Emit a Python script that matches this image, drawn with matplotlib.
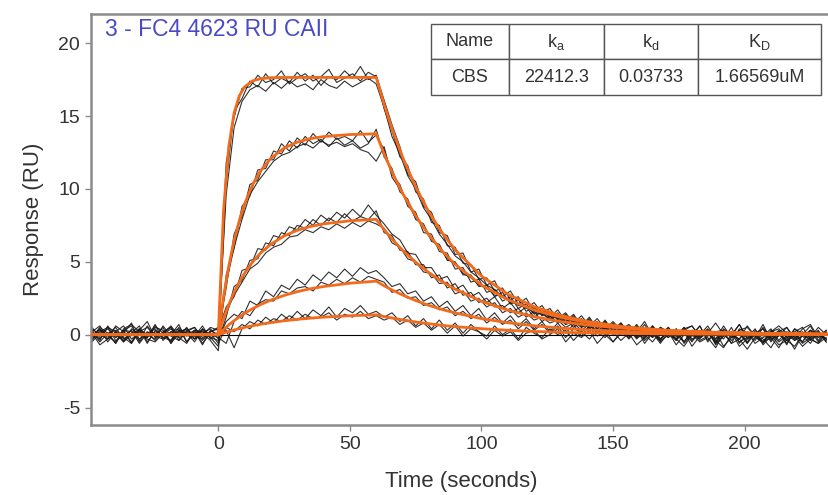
import numpy as np
import matplotlib
matplotlib.use('Agg')
import matplotlib.pyplot as plt

plt.rcParams['font.family'] = ['Liberation Sans', 'DejaVu Sans']
plt.rcParams['axes.unicode_minus'] = False

# ---- data ----
# raw traces are sampled every 3 s from -48 s to 231 s
# (17 points before injection, 20 during association, 57 during dissociation)
t_start, t_step = -48, 3

top_a = [0.3, -0.4, 0.6, -0.2, 0.1, 0.8, -0.5, 0.2, -0.1, 0.5, -0.6, 0.3, 0.0, -0.3, 0.4, -0.2, -0.8,
         10.4, 15.3, 16.2, 17.4, 17.0, 17.9, 17.2, 17.6, 17.3, 18.0, 17.4, 17.8, 17.1, 17.7, 17.5, 18.1, 17.6, 18.4, 17.5, 17.8,
         16.1, 14.4, 12.9, 11.0, 10.5, 8.8, 8.4, 7.0, 6.8, 5.5,
         5.6, 4.3, 4.5, 3.4, 3.7, 2.6, 3.0, 2.1, 2.5, 1.6,
         2.0, 1.2, 1.7, 0.9, 1.4, 0.6, 1.2, 0.4, 1.0, 0.2,
         0.8, 0.1, 0.7, -0.2, 0.6, 0.0, 0.5, -0.4, 0.3, -0.1,
         0.6, -0.5, 0.2, -0.3, 0.5, -0.6, 0.1, -0.2, 0.7, -0.4,
         0.2, -0.7, 0.4, -0.1, 0.3, -0.5, 0.2]
top_b = [-0.2, 0.5, 0.1, -0.6, 0.4, 0.7, 0.2, -0.3, -0.5, 0.1, 0.6, -0.1, 0.3, 0.5, -0.4, 0.2, 0.4,
         11.8, 14.9, 16.9, 17.0, 17.8, 17.3, 17.5, 18.1, 17.2, 17.6, 17.9, 17.4, 17.7, 18.2, 17.3, 17.6, 17.9, 17.4, 18.0, 17.7,
         15.5, 14.0, 12.2, 11.6, 9.8, 9.3, 7.7, 7.5, 6.1, 6.0,
         4.9, 4.8, 3.8, 3.9, 3.0, 3.2, 2.4, 2.6, 1.8, 2.2,
         1.5, 1.8, 1.1, 1.5, 0.8, 1.3, 0.6, 1.1, 0.4, 0.9,
         0.3, 0.7, 0.2, 0.9, -0.1, 0.5, 0.2, -0.3, 0.4, 0.6,
         -0.2, 0.1, 0.8, 0.0, -0.4, 0.3, 0.5, -0.1, -0.5, 0.2,
         0.6, 0.1, -0.3, 0.4, 0.7, -0.2, 0.3]
top_c = [0.1, -0.7, -0.3, 0.2, -0.5, 0.0, 0.4, -0.6, 0.3, -0.2, -0.4, 0.5, -0.1, 0.2, -0.7, 0.3, 0.0,
         9.6, 14.2, 16.0, 16.8, 17.1, 16.7, 17.3, 16.9, 17.4, 17.0, 17.2, 16.8, 17.5, 17.1, 16.9, 17.4, 17.0, 17.3, 17.6, 17.2,
         15.6, 13.6, 12.4, 10.9, 10.0, 8.7, 7.9, 6.9, 6.2, 5.4,
         5.0, 4.3, 3.9, 3.4, 3.1, 2.6, 2.4, 2.0, 1.9, 1.5,
         1.4, 1.1, 1.2, 0.7, 0.9, 0.5, 0.7, 0.3, 0.6, 0.1,
         0.4, -0.2, 0.3, -0.4, 0.1, -0.6, 0.2, -0.3, -0.8, 0.0,
         -0.5, -0.2, -0.9, 0.1, -0.6, -0.3, -1.0, -0.2, -0.5, 0.0,
         -0.7, -0.4, -0.1, -0.8, -0.3, -0.6, -0.2]

mid_a = [0.4, 0.0, -0.3, 0.6, 0.2, -0.5, 0.3, 0.9, -0.2, 0.1, 0.5, -0.4, 0.2, -0.1, 0.6, -0.3, 0.2,
         3.2, 6.9, 8.1, 10.3, 10.6, 12.0, 12.0, 13.1, 12.6, 13.5, 13.0, 13.8, 13.2, 13.9, 13.4, 13.6, 13.3, 14.0, 13.2, 13.7,
         12.7, 11.0, 10.3, 8.8, 8.4, 7.0, 6.9, 5.7, 5.6, 4.5,
         4.6, 3.6, 3.8, 2.9, 3.1, 2.3, 2.6, 1.8, 2.1, 1.4,
         1.8, 1.1, 1.5, 0.8, 1.3, 0.6, 1.1, 0.4, 0.9, 0.3,
         0.8, 0.1, 0.6, -0.3, 0.5, 0.2, -0.2, 0.4, -0.5, 0.3,
         0.0, 0.6, -0.3, 0.2, -0.6, 0.4, 0.1, -0.4, 0.5, -0.2,
         0.3, -0.6, 0.2, 0.5, -0.3, 0.1, -0.4]
mid_b = [-0.3, 0.2, 0.5, -0.4, -0.1, 0.3, -0.6, 0.1, 0.4, -0.2, 0.0, 0.7, -0.5, 0.3, 0.1, -0.4, -1.1,
         4.1, 5.9, 8.8, 9.5, 11.3, 11.4, 12.6, 12.4, 13.3, 12.8, 13.6, 13.1, 13.4, 12.9, 13.5, 13.0, 13.3, 12.8, 13.1, 14.1,
         12.2, 11.4, 9.8, 9.3, 7.9, 7.6, 6.4, 6.2, 5.1, 5.0,
         4.1, 4.1, 3.3, 3.4, 2.6, 2.9, 2.1, 2.4, 1.6, 1.9,
         1.3, 1.6, 1.0, 1.4, 0.7, 1.1, 0.5, 0.9, 0.3, 0.8,
         0.2, 0.6, 0.0, 0.7, -0.2, 0.4, 0.1, -0.4, 0.3, 0.6,
         -0.1, 0.2, -0.5, 0.4, 0.0, -0.3, 0.6, -0.1, -0.6, 0.2,
         0.4, -0.2, 0.1, -0.5, 0.3, 0.0, -0.3]
mid_c = [0.2, -0.5, 0.1, 0.3, -0.2, -0.6, 0.4, 0.0, -0.3, 0.6, -0.1, -0.4, 0.2, 0.5, -0.2, 0.1, 0.0,
         3.5, 6.0, 7.9, 9.6, 10.5, 11.2, 11.9, 12.3, 12.5, 12.9, 13.1, 12.8, 13.3, 13.0, 13.2, 12.9, 13.1, 12.7, 12.5, 11.9,
         12.9, 10.8, 10.0, 9.0, 8.0, 7.4, 6.5, 6.0, 5.2, 4.9,
         4.2, 3.9, 3.4, 3.2, 2.7, 2.7, 2.2, 2.1, 1.8, 1.8,
         1.4, 1.5, 1.1, 1.2, 0.9, 1.0, 0.6, 0.8, 0.4, 0.7,
         0.3, 0.5, -0.1, 0.4, 0.2, -0.3, 0.3, 0.0, -0.5, 0.2,
         -0.2, 0.3, -0.6, -0.1, 0.2, -0.5, -0.2, 0.4, -0.7, -0.1,
         0.1, -0.4, -0.8, 0.0, -0.3, -0.6, 0.1]

low_a = [-0.1, 0.4, -0.5, 0.2, 0.6, -0.3, 0.1, -0.2, 0.5, 0.3, -0.6, 0.1, 0.4, -0.3, 0.0, 0.5, 0.3,
         1.9, 2.6, 4.4, 4.6, 5.9, 5.8, 6.8, 6.6, 7.4, 7.2, 7.9, 7.5, 8.2, 7.8, 8.4, 8.0, 8.6, 8.1, 8.9, 8.2,
         7.6, 6.9, 6.5, 5.6, 5.5, 4.6, 4.6, 3.8, 4.0, 3.1,
         3.4, 2.6, 2.9, 2.2, 2.6, 1.8, 2.2, 1.5, 1.9, 1.2,
         1.6, 1.0, 1.4, 0.7, 1.2, 0.5, 1.0, 0.4, 0.9, 0.2,
         0.7, 0.0, 0.6, 0.3, -0.2, 0.5, 0.1, -0.3, 0.4, 0.0,
         0.6, -0.4, 0.2, 0.3, -0.1, 0.7, -0.3, 0.1, 0.4, -0.5,
         0.2, 0.5, -0.2, 0.0, 0.6, -0.4, 0.3]
low_b = [0.5, -0.2, 0.1, -0.6, 0.3, 0.2, -0.4, 0.6, -0.1, -0.3, 0.2, 0.4, -0.5, 0.1, 0.3, -0.2, -0.4,
         1.2, 3.3, 3.7, 5.1, 5.2, 6.3, 6.1, 7.0, 6.8, 7.5, 7.3, 7.9, 7.5, 8.0, 7.7, 8.3, 7.8, 8.1, 7.9, 8.5,
         7.0, 6.8, 5.8, 5.7, 4.8, 4.8, 3.9, 4.1, 3.2, 3.5,
         2.7, 2.9, 2.2, 2.5, 1.9, 2.0, 1.5, 1.8, 1.2, 1.6,
         0.9, 1.3, 0.8, 1.1, 0.5, 0.9, 0.4, 0.8, 0.2, 0.7,
         0.1, 0.5, -0.2, 0.4, 0.1, -0.4, 0.3, -0.1, 0.5, -0.3,
         0.0, 0.4, -0.5, 0.2, -0.2, 0.3, -0.6, 0.1, 0.4, -0.3,
         -0.1, 0.5, -0.4, 0.2, -0.2, 0.3, -0.5]
low_c = [-0.4, 0.3, 0.0, 0.5, -0.3, 0.1, 0.6, -0.5, 0.2, 0.0, 0.4, -0.2, -0.6, 0.3, 0.2, -0.1, 0.1,
         1.5, 2.7, 3.6, 4.5, 4.9, 5.6, 6.0, 6.2, 6.7, 6.8, 7.2, 7.0, 7.4, 7.2, 7.6, 7.3, 7.7, 7.4, 7.8, 7.6,
         7.3, 6.3, 6.0, 5.2, 5.0, 4.3, 4.2, 3.5, 3.6, 2.8,
         3.0, 2.3, 2.5, 1.9, 2.2, 1.5, 1.8, 1.2, 1.5, 1.0,
         1.2, 0.8, 1.0, 0.5, 0.8, 0.3, 0.7, 0.1, 0.5, 0.0,
         0.4, -0.3, 0.3, 0.0, -0.5, 0.2, -0.2, 0.4, -0.6, 0.0,
         -0.3, 0.3, -0.7, -0.1, 0.2, -0.8, -0.3, 0.1, -0.5, -0.2,
         -0.9, 0.0, -0.4, -0.1, -0.6, 0.2, -0.3]

min_a = [0.2, 0.6, -0.3, 0.1, -0.5, 0.4, 0.0, -0.2, 0.7, -0.4, 0.2, -0.1, 0.5, -0.3, 0.1, 0.4, -0.3,
         0.9, 1.4, 1.1, 2.3, 2.0, 3.0, 2.6, 3.4, 3.1, 3.8, 3.4, 4.1, 3.7, 4.3, 3.9, 4.5, 4.0, 4.6, 4.2, 4.4,
         3.9, 3.3, 3.5, 2.8, 3.0, 2.3, 2.6, 1.9, 2.3, 1.6,
         2.0, 1.3, 1.8, 1.0, 1.5, 0.8, 1.3, 0.6, 1.1, 0.4,
         0.9, 0.2, 0.8, 0.1, 0.7, -0.1, 0.6, 0.2, -0.2, 0.5,
         0.0, 0.4, -0.3, 0.3, 0.1, -0.4, 0.5, -0.1, 0.2, -0.5,
         0.3, 0.0, -0.3, 0.6, -0.2, 0.1, -0.6, 0.3, -0.1, 0.4,
         -0.4, 0.2, 0.0, -0.5, 0.3, -0.2, 0.1]
min_b = [-0.5, 0.1, 0.4, -0.2, 0.3, -0.6, 0.2, 0.5, -0.1, 0.0, -0.4, 0.3, 0.1, -0.5, 0.4, 0.0, -0.2,
         -0.6, 0.9, 1.6, 1.3, 2.1, 2.4, 2.3, 3.0, 2.8, 3.2, 3.3, 3.0, 3.6, 3.4, 3.8, 3.5, 3.9, 3.6, 4.0, 3.8,
         3.6, 2.9, 3.1, 2.5, 2.6, 2.0, 2.2, 1.7, 1.9, 1.3,
         1.6, 1.1, 1.4, 0.8, 1.2, 0.7, 1.0, 0.4, 0.9, 0.3,
         0.7, 0.1, 0.6, -0.2, 0.4, 0.2, -0.3, 0.3, 0.0, -0.5,
         0.2, -0.2, 0.4, -0.6, 0.1, -0.3, 0.2, -0.7, 0.0, 0.3,
         -0.4, -0.1, 0.2, -0.8, -0.2, 0.1, -0.5, 0.2, -0.3, -0.9,
         0.0, -0.4, 0.1, -0.6, -0.2, 0.2, -0.5]

tiny_a = [0.1, -0.3, 0.5, 0.2, -0.4, 0.0, 0.3, -0.2, 0.6, 0.1, -0.5, 0.2, 0.4, -0.1, -0.3, 0.2, 0.5,
          0.3, -0.9, 0.4, 0.9, 0.6, 1.2, 0.8, 1.4, 1.0, 1.6, 1.1, 1.7, 1.3, 1.9, 1.2, 1.8, 1.5, 2.0, 1.4, 1.6,
          1.2, 1.5, 0.9, 1.3, 0.6, 1.1, 0.4, 1.0, 0.3, 0.8,
          0.1, 0.7, 0.2, -0.1, 0.6, 0.0, 0.4, -0.3, 0.5, 0.1,
          -0.2, 0.4, 0.0, 0.3, -0.4, 0.2, 0.5, -0.1, 0.3, -0.5,
          0.1, 0.4, -0.2, 0.0, 0.6, -0.3, 0.2, -0.1, 0.5, -0.4,
          0.1, 0.3, -0.6, 0.2, 0.0, 0.7, -0.2, 0.1, -0.5, 0.3,
          0.0, -0.3, 0.4, 0.1, -0.2, 0.5, 0.0]
tiny_b = [-0.2, 0.4, -0.1, -0.5, 0.3, 0.6, -0.3, 0.1, -0.4, 0.2, 0.5, -0.2, 0.0, 0.3, -0.6, 0.1, -0.6,
          0.5, 0.2, 0.7, 0.4, 1.0, 0.7, 1.1, 0.9, 1.3, 1.0, 1.4, 1.1, 1.2, 1.5, 1.0, 1.4, 1.2, 1.6, 1.1, 1.3,
          1.0, 1.2, 0.7, 1.0, 0.5, 0.8, 0.3, 0.7, 0.1, 0.6,
          -0.1, 0.4, 0.2, -0.3, 0.3, -0.1, 0.2, -0.4, 0.1, 0.3,
          -0.3, 0.0, 0.4, -0.5, 0.1, -0.2, 0.3, -0.6, 0.0, 0.2,
          -0.4, 0.1, -0.7, -0.2, 0.3, -0.5, 0.0, -0.3, 0.2, -0.8,
          -0.1, 0.1, -0.4, -0.9, 0.0, -0.3, 0.2, -0.6, -0.2, 0.1,
          -0.5, -0.1, -1.0, 0.0, -0.4, 0.1, -0.3]

# 1:1 fitted curves (orange), read at these times
fit_t = [-48, 0, 2, 4, 6, 8, 10, 13, 16, 20, 25, 30, 35, 40, 50, 60,
         63, 66, 70, 75, 80, 85, 90, 100, 110, 120, 130, 140, 155, 170, 190, 210, 232]
fit_top = [0, 0, 8.53, 12.93, 15.21, 16.39, 17.0, 17.41, 17.56, 17.63, 17.65, 17.65, 17.65, 17.65, 17.65, 17.65,
           15.8, 14.14, 12.19, 10.13, 8.42, 7.0, 5.82, 4.02, 2.78, 1.92, 1.32, 0.91, 0.52, 0.30, 0.14, 0.07, 0.03]
fit_mid = [0, 0, 2.61, 4.73, 6.45, 7.84, 8.97, 10.28, 11.23, 12.11, 12.80, 13.21, 13.45, 13.59, 13.73, 13.78,
           12.40, 11.17, 9.71, 8.15, 6.84, 5.75, 4.82, 3.40, 2.40, 1.69, 1.19, 0.84, 0.50, 0.29, 0.15, 0.07, 0.03]
fit_low = [0, 0, 1.11, 2.07, 2.90, 3.61, 4.22, 4.98, 5.59, 6.21, 6.77, 7.16, 7.42, 7.60, 7.81, 7.91,
           7.21, 6.57, 5.80, 4.97, 4.26, 3.64, 3.12, 2.29, 1.68, 1.23, 0.90, 0.66, 0.42, 0.26, 0.14, 0.08, 0.04]
fit_min = [0, 0, 0.35, 0.67, 0.96, 1.22, 1.46, 1.78, 2.06, 2.37, 2.69, 2.95, 3.15, 3.30, 3.53, 3.67,
           3.35, 3.07, 2.72, 2.34, 2.01, 1.73, 1.49, 1.10, 0.82, 0.61, 0.45, 0.33, 0.21, 0.14, 0.07, 0.04, 0.02]
fit_tiny = [0, 0, 0.12, 0.22, 0.32, 0.41, 0.50, 0.61, 0.71, 0.83, 0.95, 1.05, 1.13, 1.20, 1.30, 1.36,
            1.24, 1.14, 1.01, 0.87, 0.75, 0.64, 0.55, 0.41, 0.30, 0.22, 0.17, 0.12, 0.08, 0.05, 0.03, 0.01, 0.01]

# kinetics table
table_cols = ['Name', 'k$_\\mathregular{a}$', 'k$_\\mathregular{d}$', 'K$_\\mathregular{D}$']
table_row = ['CBS', '22412.3', '0.03733', '1.66569uM']
title_text = '3 - FC4 4623 RU CAII'

traces = [top_a, top_b, top_c, mid_a, mid_b, mid_c, low_a, low_b, low_c, min_a, min_b, tiny_a, tiny_b]
fits = [fit_top, fit_mid, fit_low, fit_min, fit_tiny]

# ---- figure ----
fig = plt.figure(figsize=(8.29, 4.95), dpi=100)
ax = fig.add_axes([0.110, 0.1414, 0.892, 0.8303])

ax.axhline(0, color='black', linewidth=0.8, zorder=1)

for tr in traces:
    t = t_start + t_step * np.arange(len(tr))
    ax.plot(t, tr, color='#1a1a1a', linewidth=0.8, alpha=0.9, zorder=2)

for f in fits:
    ax.plot(fit_t, f, color='#f26a1b', linewidth=2.0, zorder=3, solid_joinstyle='round')

ax.set_xlim(-48.3, 232.7)
ax.set_ylim(-6.2, 22.0)
ax.set_xticks([0, 50, 100, 150, 200])
ax.set_yticks([-5, 0, 5, 10, 15, 20])

for side in ['left', 'bottom', 'top']:
    ax.spines[side].set_color('#8a8a8a')
    ax.spines[side].set_linewidth(1.8)
ax.spines['right'].set_visible(False)
ax.tick_params(direction='out', length=4, width=1.0, color='#8a8a8a',
               labelsize=14, labelcolor='#333333', pad=4)
ax.grid(False)

ax.set_xlabel('Time (seconds)', fontsize=16, color='#333333', labelpad=13)
ax.set_ylabel('Response (RU)', fontsize=16, color='#333333', labelpad=10)

ax.text(0.019, 0.963, title_text, transform=ax.transAxes, fontsize=16.5,
        color='#4a4ac8', ha='left', va='center')

tbl = ax.table(cellText=[table_row], colLabels=table_cols, cellLoc='center',
               colWidths=[0.2, 0.244, 0.241, 0.315],
               bbox=[0.459, 0.803, 0.528, 0.173])
tbl.auto_set_font_size(False)
tbl.set_fontsize(13)
for cell in tbl.get_celld().values():
    cell.set_edgecolor('#555555')
    cell.set_linewidth(1.0)
    cell.set_facecolor('white')
    cell.get_text().set_color('#333333')
tbl.set_zorder(5)

plt.savefig('out.png', dpi=100, facecolor='white')
plt.close()
